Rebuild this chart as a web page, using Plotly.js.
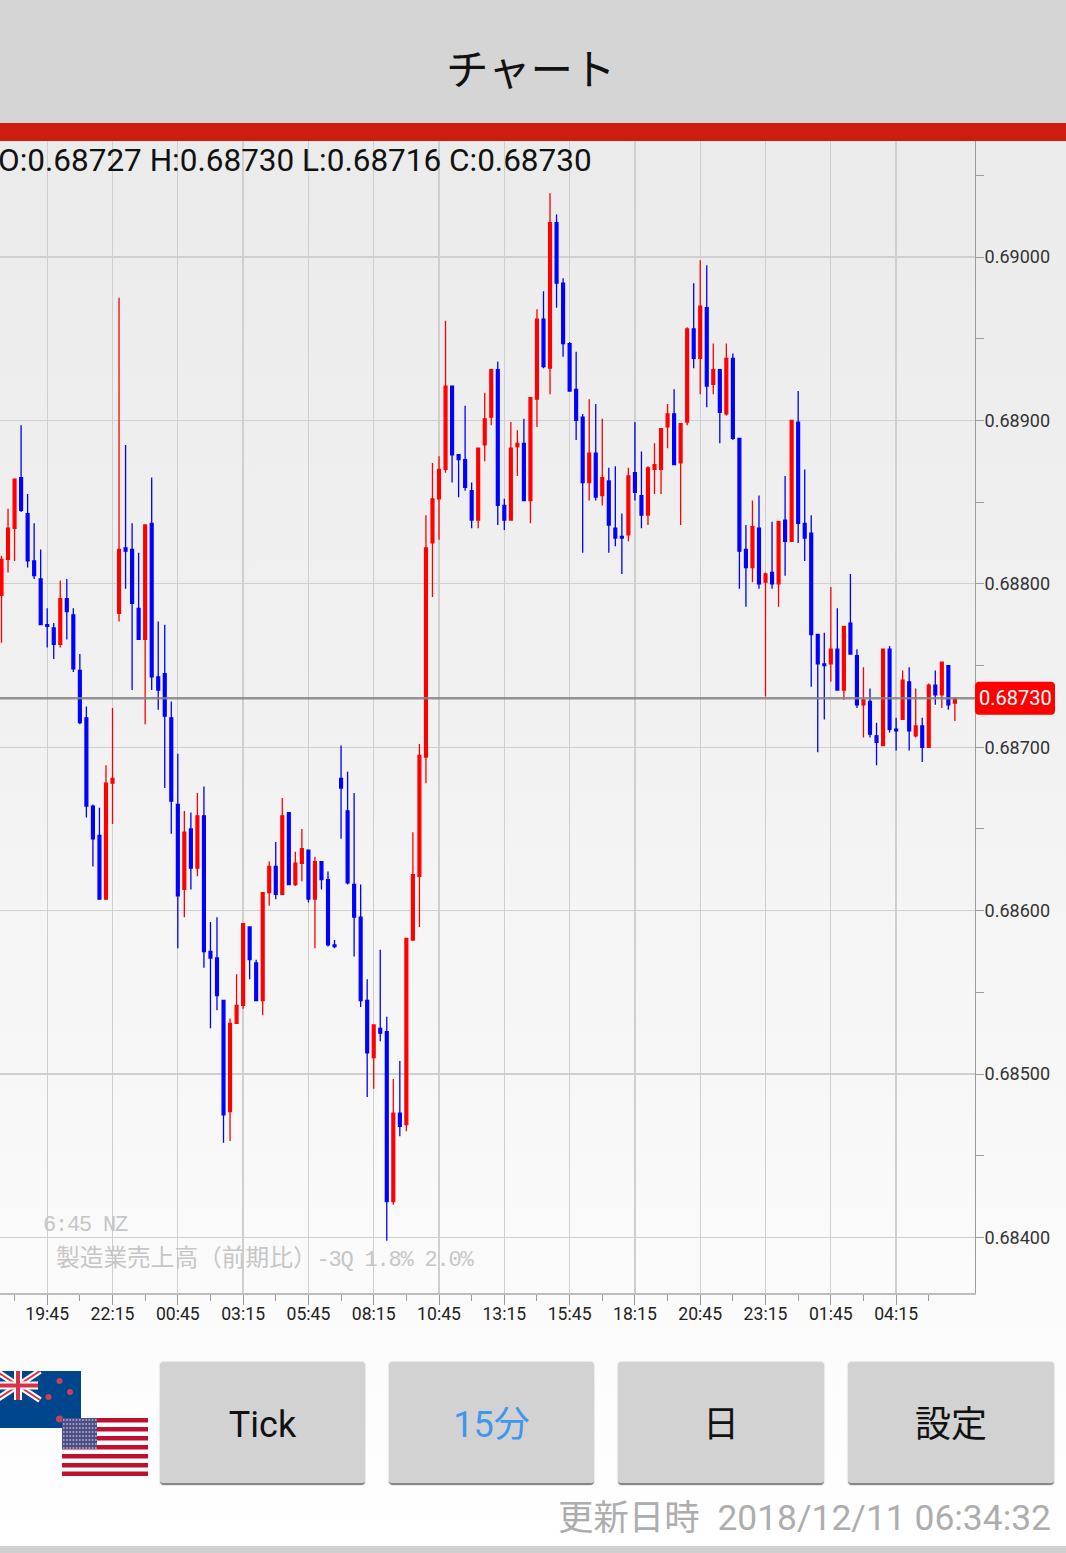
<!DOCTYPE html>
<html>
<head>
<meta charset="utf-8">
<title>チャート</title>
<script src="https://cdn.plot.ly/plotly-3.0.1.min.js"></script>
<style>
html, body { margin: 0; padding: 0; width: 1066px; height: 1553px; overflow: hidden; background: #fff; }
body { position: relative; font-family: Roboto, "Noto Sans CJK JP", sans-serif; }
.abs { position: absolute; }
#pageBack { left: 0; top: 141px; width: 1066px; height: 1412px; background: linear-gradient(#ebebeb 0, #f1f1f1 40%, #fbfbfb 82%, #ffffff 100%); }
#header { left: 0; top: 0; width: 1066px; height: 123px; background: #d5d5d5; }
#redBar { left: 0; top: 123px; width: 1066px; height: 18px; background: #cf1c10; }
#headerText { left: 446px; top: 39px; font: 42.500px/56px "Noto Sans CJK JP"; color: #111; white-space: nowrap; }
#chart { left: 0; top: 0; width: 1066px; height: 1553px; }
.btn { top: 1362px; height: 121px; background: #d2d2d2; border-radius: 4px; border-bottom: 2px solid #858585; box-shadow: 0 0 2px #bbb;
       font: 36px/127px Roboto, "Noto Sans CJK JP"; color: #111; text-align: center; }
#updated { right: 15px; top: 1493px; font: 35.400px/50px Roboto, "Noto Sans CJK JP"; color: #adadad; white-space: nowrap; }
#updated span { margin-right: 9px; }
#bottomLine { left: 0; top: 1546px; width: 1066px; height: 7px; background: #d0d0d0; }
</style>
</head>
<body>
<div class="abs" id="pageBack"></div>
<div class="abs" id="chart"></div>
<div class="abs" id="header"></div>
<div class="abs" id="redBar"></div>
<div class="abs" id="headerText">チャート</div>

<svg class="abs" style="left:0;top:1371px" width="81" height="57" viewBox="0 0 81 57">
  <rect width="81" height="57" fill="#00468c"/>
  <path d="M-4 0L40 29M40 0L-4 29" stroke="#fff" stroke-width="6"/>
  <path d="M-4 0L40 29M40 0L-4 29" stroke="#d8324a" stroke-width="2"/>
  <path d="M18 0V29M-4 14.500H38" stroke="#fff" stroke-width="8"/>
  <path d="M18 0V29M-4 14.500H38" stroke="#d8324a" stroke-width="4"/>
  <g fill="#c8405a">
    <circle cx="59.500" cy="10" r="3"/><circle cx="70" cy="21" r="3"/><circle cx="48.500" cy="26" r="3"/><circle cx="59.500" cy="48" r="3.500"/>
  </g>
</svg>
<svg class="abs" style="left:62px;top:1418px" width="86" height="58" viewBox="0 0 86 58">
  <rect width="86" height="58" fill="#fff"/>
  <g fill="#c0102f">
    <rect y="0" width="86" height="4.500"/><rect y="9" width="86" height="4.500"/><rect y="18" width="86" height="4.500"/>
    <rect y="27" width="86" height="4.500"/><rect y="36" width="86" height="4.500"/><rect y="45" width="86" height="4.500"/>
    <rect y="53.500" width="86" height="4.500"/>
  </g>
  <rect width="35" height="31" fill="#4d4d85"/>
  <path d="M1 2H35M1 6H35M1 10H35M1 14H35M1 18H35M1 22H35M1 26H35M1 30H35" stroke="#b9b9d6" stroke-width="1.600" stroke-dasharray="1.600 1.600"/>
</svg>

<div class="abs btn" style="left:160px;width:205px">Tick</div>
<div class="abs btn" style="left:389px;width:205px;color:#3d97ee">15分</div>
<div class="abs btn" style="left:618px;width:206px">日</div>
<div class="abs btn" style="left:848px;width:206px">設定</div>
<div class="abs" id="updated"><span>更新日時</span> 2018/12/11 06:34:32</div>
<div class="abs" id="bottomLine"></div>

<script>
"use strict";

// prices of the 15 minute candles, in units of 0.00001 (NZD/USD)
var openPrices = [
    68793,68815,68834,68865,68843,68814,68803,68775,68773,68763,
    68791,68781,68747,68718,68664,68646,68607,68678,68782,68822,
    68821,68785,68766,68837,68743,68745,68718,68665,68613,68650,
    68626,68658,68575,68571,68545,68477,68531,68542,68590,68568,
    68545,68611,68627,68610,68660,68616,68629,68637,68607,68630,
    68619,68579,68681,68661,68616,68596,68545,68510,68528,68526,
    68422,68476,68469,68582,68621,68694,68825,68852,68870,68921,
    68879,68876,68857,68839,68885,68902,68931,68848,68839,68884,
    68886,68851,68913,68962,68932,69021,68984,68947,68919,68902,
    68862,68880,68854,68863,68834,68829,68830,68868,68854,68842,
    68870,68870,68896,68904,68874,68899,68956,68938,68969,68922,
    68931,68904,68938,68889,68821,68810,68834,68801,68807,68800,
    68839,68826,68899,68837,68831,68769,68751,68751,68760,68735,
    68776,68756,68726,68728,68707,68701,68760,68711,68717,68740,
    68707,68713,68700,68738,68732,68750,68727
];
var highPrices = [
    68817,68846,68864,68897,68855,68837,68821,68785,68776,68802,
    68803,68785,68757,68725,68665,68663,68689,68724,68975,68885,
    68837,68819,68836,68865,68777,68775,68728,68696,68661,68660,
    68672,68676,68593,68596,68545,68534,68561,68592,68590,68570,
    68611,68630,68642,68669,68660,68636,68650,68637,68633,68630,
    68624,68582,68701,68685,68672,68616,68558,68530,68576,68535,
    68497,68508,68583,68648,68702,68842,68874,68878,68961,68921,
    68879,68909,68862,68883,68917,68931,68936,68852,68899,68894,
    68901,68914,68968,68979,69039,69026,68987,68948,68942,68904,
    68913,68910,68901,68871,68872,68843,68871,68899,68881,68872,
    68886,68895,68910,68919,68898,68957,68984,68998,68995,68947,
    68931,68947,68941,68889,68836,68851,68854,68807,68838,68838,
    68866,68900,68918,68870,68842,68769,68770,68798,68785,68774,
    68806,68760,68749,68736,68715,68760,68762,68718,68747,68749,
    68736,68718,68739,68747,68752,68750,68730
];
var lowPrices = [
    68764,68807,68814,68844,68810,68803,68775,68761,68754,68761,
    68766,68746,68714,68657,68627,68607,68607,68653,68777,68797,
    68735,68766,68714,68735,68723,68675,68647,68577,68596,68613,
    68621,68565,68528,68539,68458,68459,68531,68540,68558,68545,
    68536,68603,68607,68610,68616,68615,68618,68605,68577,68613,
    68578,68577,68644,68616,68572,68541,68486,68491,68520,68398,
    68420,68462,68465,68582,68590,68678,68792,68827,68868,68862,
    68853,68857,68834,68834,68875,68897,68836,68833,68839,68866,
    68851,68837,68896,68932,68916,68969,68939,68918,68888,68819,
    68851,68851,68848,68819,68823,68806,68826,68851,68834,68836,
    68855,68855,68883,68873,68836,68897,68932,68916,68908,68916,
    68886,68903,68888,68797,68786,68801,68797,68731,68797,68786,
    68805,68826,68825,68814,68737,68697,68717,68740,68735,68729,
    68757,68724,68706,68706,68689,68701,68709,68698,68717,68698,
    68706,68691,68700,68726,68724,68723,68716
];
var closePrices = [
    68815,68834,68864,68845,68814,68805,68775,68774,68763,68791,
    68783,68748,68715,68664,68644,68607,68678,68681,68821,68820,
    68788,68766,68836,68743,68735,68719,68667,68609,68648,68626,
    68658,68575,68571,68548,68475,68531,68542,68592,68570,68545,
    68611,68627,68610,68658,68616,68629,68638,68607,68630,68619,
    68579,68578,68675,68617,68596,68545,68513,68530,68525,68422,
    68476,68468,68583,68622,68695,68822,68852,68870,68921,68879,
    68876,68859,68839,68883,68901,68931,68848,68839,68883,68886,
    68851,68914,68962,68933,69021,68984,68947,68918,68900,68862,
    68880,68853,68865,68836,68828,68828,68866,68856,68842,68871,
    68873,68895,68904,68873,68898,68956,68938,68970,68921,68931,
    68905,68938,68889,68820,68810,68835,68800,68806,68800,68838,
    68826,68900,68837,68828,68769,68751,68750,68760,68735,68774,
    68757,68726,68729,68708,68703,68760,68711,68710,68741,68710,
    68713,68700,68738,68732,68752,68726,68730
];

// axis ticks, the x positions are candle numbers
var timeTickCandles = [7,17,27,37,47,57,67,77,87,97,107,117,127,137];
var timeTickLabels = ["19:45","22:15","00:45","03:15","05:45","08:15","10:45","13:15","15:45","18:15","20:45","23:15","01:45","04:15"];
var timeMinorCandles = [2,12,22,32,42,52,62,72,82,92,102,112,122,132,142];
var priceTicks = [0.684,0.685,0.686,0.687,0.688,0.689,0.690];
var priceTickLabels = ["0.68400","0.68500","0.68600","0.68700","0.68800","0.68900","0.69000"];
var priceMinorTicks = [0.6845,0.6855,0.6865,0.6875,0.6885,0.6895,0.6905];

var lastOhlc = "O:0.68727 H:0.68730 L:0.68716 C:0.68730";
var lastPrice = 0.68730;
var eventTime = "6:45 NZ";
var eventName = "製造業売上高（前期比）";
var eventFigures = "-3Q 1.8% 2.0%";

function toPrice(v) {
    return v / 100000;
}

// narrow latin text like the phone's fixed width font
function narrow(text) {
    return "<span style=\"letter-spacing:-1.200px\">" + text + "</span>";
}

var candleNumbers = openPrices.map(function(v, i) { return i; });

var candleTrace = {
    type: "candlestick",
    x: candleNumbers,
    open: openPrices.map(toPrice),
    high: highPrices.map(toPrice),
    low: lowPrices.map(toPrice),
    close: closePrices.map(toPrice),
    whiskerwidth: 0,
    increasing: {line: {color: "#ff0000", width: 1.3}, fillcolor: "#ff0000"},
    decreasing: {line: {color: "#0000ff", width: 1.3}, fillcolor: "#0000ff"},
    hoverinfo: "none"
};

var gridColor = "#cfcfcf";
var axisColor = "#9c9c9c";

var layout = {
    width: 1066,
    height: 1553,
    margin: {l: 0, r: 91, t: 141, b: 260, pad: 0},
    paper_bgcolor: "rgba(0,0,0,0)",
    plot_bgcolor: "rgba(0,0,0,0)",
    showlegend: false,
    dragmode: false,
    boxgap: 0.38,
    font: {family: "Roboto", color: "#222"},
    xaxis: {
        type: "linear",
        range: [-0.23, 149.08],
        rangeslider: {visible: false},
        tickmode: "array",
        tickvals: timeTickCandles,
        ticktext: timeTickLabels,
        tickfont: {size: 17.6, color: "#222"},
        ticklabelstandoff: -6,
        ticks: "outside",
        ticklen: 10,
        tickcolor: "#999",
        showgrid: true,
        gridcolor: gridColor,
        gridwidth: 1.3,
        zeroline: false,
        showline: true,
        linecolor: "#bdbdbd",
        linewidth: 2,
        minor: {tickmode: "array", tickvals: timeMinorCandles, ticks: "outside", ticklen: 6, tickcolor: "#999", showgrid: false}
    },
    yaxis: {
        side: "right",
        range: [0.68366, 0.69071],
        tickmode: "array",
        tickvals: priceTicks,
        ticktext: priceTickLabels,
        tickfont: {size: 18, color: "#333"},
        ticklabelstandoff: -3,
        ticks: "outside",
        ticklen: 8,
        tickcolor: axisColor,
        showgrid: true,
        gridcolor: gridColor,
        gridwidth: 1.3,
        zeroline: false,
        showline: true,
        linecolor: axisColor,
        linewidth: 1,
        minor: {tickmode: "array", tickvals: priceMinorTicks, ticks: "outside", ticklen: 8, tickcolor: axisColor, showgrid: false}
    },
    shapes: [
        {type: "line", layer: "above", xref: "paper", yref: "y", x0: 0, x1: 1, y0: lastPrice, y1: lastPrice,
            line: {color: "rgba(130,130,130,0.85)", width: 2.4}},
        // red price tag on the axis
        {type: "path", layer: "above", xref: "paper", yref: "y", xsizemode: "pixel", ysizemode: "pixel",
            xanchor: 1, yanchor: lastPrice,
            path: "M 0 -12 Q 0 -16.500 4 -16.500 L 76 -16.500 Q 80 -16.500 80 -12 L 80 12 Q 80 16.500 76 16.500 L 4 16.500 Q 0 16.500 0 12 Z",
            fillcolor: "#ff0000", line: {width: 0}}
    ],
    annotations: [
        {xref: "paper", yref: "y", x: 1, y: lastPrice, xshift: 40, yshift: 0, xanchor: "center", yanchor: "middle", showarrow: false,
            text: lastPrice.toFixed(5), font: {size: 20, color: "#fff", family: "Roboto"}},
        {xref: "paper", yref: "paper", x: 0, y: 1, xshift: -3, yshift: 0, xanchor: "left", yanchor: "top", showarrow: false, borderpad: 0,
            text: lastOhlc, font: {size: 31.5, color: "#111", family: "Roboto"}},
        {xref: "paper", yref: "paper", x: 0, y: 0.0587, xshift: 42, xanchor: "left", yanchor: "middle", showarrow: false, borderpad: 0,
            text: narrow(eventTime), font: {size: 22, color: "#c6c6c6", family: "'Liberation Mono'"}},
        {xref: "paper", yref: "paper", x: 0, y: 0.032, xshift: 55, xanchor: "left", yanchor: "middle", showarrow: false, borderpad: 0,
            text: "<span style=\"font-family:'Noto Sans CJK JP';font-size:23.700px\">" + eventName + "</span>" + narrow(eventFigures),
            font: {size: 22, color: "#c6c6c6", family: "'Liberation Mono'"}}
    ]
};

Plotly.newPlot("chart", [candleTrace], layout, {staticPlot: true, displayModeBar: false});
</script>
</body>
</html>
